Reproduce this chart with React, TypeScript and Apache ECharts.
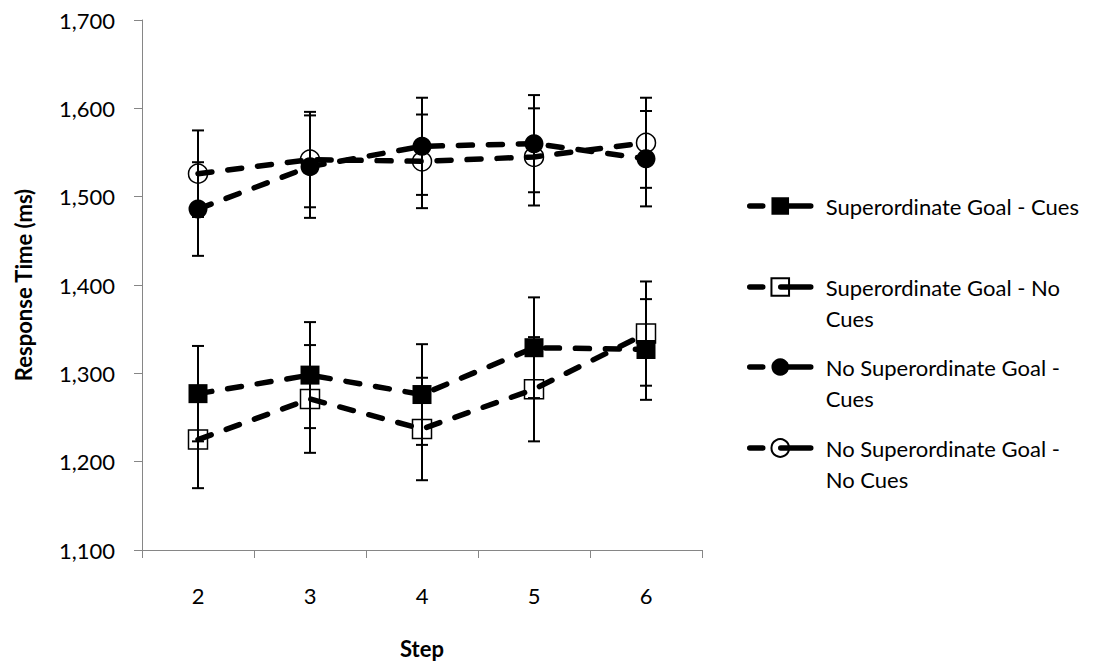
import React, { useEffect, useRef } from "react";
import * as echarts from "echarts";

const steps = ["2", "3", "4", "5", "6"];
const seriesNames = [
  "Superordinate Goal - Cues",
  "Superordinate Goal - No Cues",
  "No Superordinate Goal - Cues",
  "No Superordinate Goal - No Cues",
];
const legendLabels = [
  "Superordinate Goal - Cues",
  "\nSuperordinate Goal - No\nCues",
  "\nNo Superordinate Goal -\nCues",
  "\nNo Superordinate Goal -\nNo Cues",
];
const sgCues = [1277, 1298, 1276, 1329, 1327];
const sgCuesErr = [54, 60, 57, 57, 57];
const sgNoCues = [1225, 1271, 1237, 1282, 1345];
const sgNoCuesErr = [55, 61, 58, 59, 59];
const nsgCues = [1486, 1534, 1557, 1560, 1543];
const nsgCuesErr = [53, 58, 55, 55, 54];
const nsgNoCues = [1526, 1542, 1540, 1545, 1561];
const nsgNoCuesErr = [49, 54, 53, 55, 51];
const yMin = 1100;
const yMax = 1700;
const yStep = 100;

const FONT = "Lato";
const AXIS_GREY = "#868686";

function errorSeries(values: number[], errs: number[]) {
  return {
    type: "custom",
    silent: true,
    z: 1,
    data: values.map((v, i) => [i, v - errs[i], v + errs[i]]),
    encode: { x: 0, y: [1, 2] },
    renderItem: (_params: any, api: any) => {
      const x = api.value(0);
      const lo = api.coord([x, api.value(1)]);
      const hi = api.coord([x, api.value(2)]);
      const cap = 6;
      const style = { stroke: "#000", lineWidth: 2 };
      return {
        type: "group",
        children: [
          { type: "line", shape: { x1: hi[0], y1: hi[1], x2: lo[0], y2: lo[1] }, style },
          { type: "line", shape: { x1: hi[0] - cap, y1: hi[1], x2: hi[0] + cap, y2: hi[1] }, style },
          { type: "line", shape: { x1: lo[0] - cap, y1: lo[1], x2: lo[0] + cap, y2: lo[1] }, style },
        ],
      };
    },
  };
}

function lineSeries(name: string, values: number[], symbol: string, filled: boolean) {
  return {
    name,
    type: "line",
    data: values,
    symbol,
    symbolSize: 19,
    z: 3,
    lineStyle: { color: "#000", width: 5.5, type: [14, 16], cap: "round" },
    itemStyle: filled
      ? { color: "#000", borderColor: "#000", borderWidth: 0 }
      : { color: "rgba(0,0,0,0)", borderColor: "#000", borderWidth: 1.5 },
  };
}

const legendCenters = [206, 287, 367, 448];

export default function App() {
  const ref = useRef<HTMLDivElement>(null);
  useEffect(() => {
    if (!ref.current) return;
    const chart = echarts.init(ref.current, null, { renderer: "svg" });
    const legends = seriesNames.map((name, i) => {
      const multi = legendLabels[i].indexOf("\n") >= 0;
      const top = legendCenters[i] - (multi ? 46.5 : 15.5);
      return {
        data: [name],
        left: 747,
        top,
        orient: "vertical",
        padding: 0,
        itemWidth: 61,
        itemHeight: 22,
        selectedMode: false,
        formatter: () => legendLabels[i],
        textStyle: {
          fontFamily: FONT,
          fontSize: 22,
          color: "#000",
          lineHeight: 31,
          padding: [0, 0, 0, 10],
        },
        lineStyle: { type: [13, 18, 30], width: 5.5, cap: "round" },
      };
    });
    chart.setOption({
      animation: false,
      backgroundColor: "#fff",
      textStyle: { fontFamily: FONT },
      grid: { left: 142, top: 20, right: 410, bottom: 110, containLabel: false },
      legend: legends,
      xAxis: {
        type: "category",
        data: steps,
        boundaryGap: true,
        name: "Step",
        nameLocation: "middle",
        nameGap: 87,
        nameTextStyle: { fontFamily: FONT, fontWeight: "bold", fontSize: 22, color: "#000" },
        axisLine: { show: true, lineStyle: { color: AXIS_GREY, width: 1 } },
        axisTick: { show: true, length: 8, alignWithLabel: false, lineStyle: { color: AXIS_GREY } },
        axisLabel: { margin: 34, fontFamily: FONT, fontSize: 22, color: "#000" },
        splitLine: { show: false },
      },
      yAxis: {
        type: "value",
        min: yMin,
        max: yMax,
        interval: yStep,
        name: "Response Time (ms)",
        nameLocation: "middle",
        nameRotate: 90,
        nameGap: 108,
        nameTextStyle: { fontFamily: FONT, fontWeight: "bold", fontSize: 22, color: "#000" },
        axisLine: { show: true, lineStyle: { color: AXIS_GREY, width: 1 } },
        axisTick: { show: true, length: 8, lineStyle: { color: AXIS_GREY } },
        axisLabel: {
          margin: 27,
          fontFamily: FONT,
          fontSize: 22,
          color: "#000",
          formatter: (v: number) => v.toLocaleString("en-US"),
        },
        splitLine: { show: false },
      },
      series: [
        errorSeries(sgCues, sgCuesErr),
        errorSeries(sgNoCues, sgNoCuesErr),
        errorSeries(nsgCues, nsgCuesErr),
        errorSeries(nsgNoCues, nsgNoCuesErr),
        lineSeries(seriesNames[0], sgCues, "rect", true),
        lineSeries(seriesNames[1], sgNoCues, "rect", false),
        lineSeries(seriesNames[2], nsgCues, "circle", true),
        lineSeries(seriesNames[3], nsgNoCues, "circle", false),
      ],
    });
    return () => chart.dispose();
  }, []);
  return (
    <div
      ref={ref}
      style={{ position: "fixed", left: 0, top: 0, width: 1112, height: 664, background: "#fff" }}
    />
  );
}
